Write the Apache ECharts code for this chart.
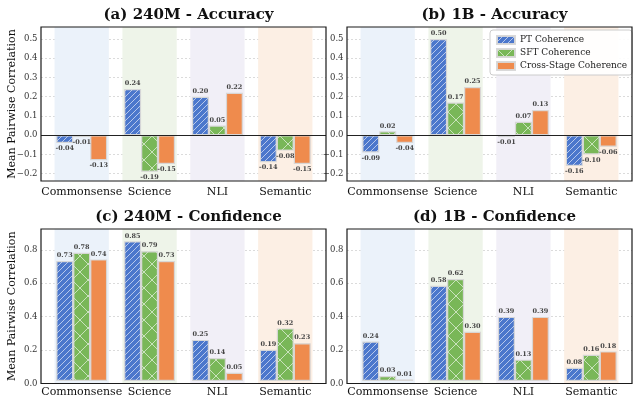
<!DOCTYPE html>
<html>
<head>
<meta charset="utf-8">
<script src="https://cdn.jsdelivr.net/npm/echarts@6/dist/echarts.min.js"></script>
<style>
  html, body { margin: 0; padding: 0; background: #fff; }
  #chart { width: 638px; height: 398px; }
</style>
</head>
<body>
<div id="chart"></div>
<script>
// ---- data ----
const categories = ['Commonsense', 'Science', 'NLI', 'Semantic'];
const seriesNames = ['PT Coherence', 'SFT Coherence', 'Cross-Stage Coherence'];
const panelTitles = ['(a) 240M - Accuracy', '(b) 1B - Accuracy', '(c) 240M - Confidence', '(d) 1B - Confidence'];

const acc240mPT    = [-0.04,  0.24,  0.20, -0.14];
const acc240mSFT   = [-0.01, -0.19,  0.05, -0.08];
const acc240mCross = [-0.13, -0.15,  0.22, -0.15];

const acc1bPT    = [-0.09, 0.50, -0.01, -0.16];
const acc1bSFT   = [ 0.02, 0.17,  0.07, -0.10];
const acc1bCross = [-0.04, 0.25,  0.13, -0.06];

const conf240mPT    = [0.73, 0.85, 0.25, 0.19];
const conf240mSFT   = [0.78, 0.79, 0.14, 0.32];
const conf240mCross = [0.74, 0.73, 0.05, 0.23];

const conf1bPT    = [0.24, 0.58, 0.39, 0.08];
const conf1bSFT   = [0.03, 0.62, 0.13, 0.16];
const conf1bCross = [0.01, 0.30, 0.39, 0.18];

const accTicks  = [-0.2, -0.1, 0.0, 0.1, 0.2, 0.3, 0.4, 0.5];
const confTicks = [0.0, 0.2, 0.4, 0.6, 0.8];
const accRange  = [-0.238, 0.562];
const confRange = [0, 0.925];

const yAxisTitle = 'Mean Pairwise Correlation';

// ---- styling ----
const SERIF = "'DejaVu Serif', serif";
const BLUE = '#4b77cc', GREEN = '#79b758', ORANGE = '#ef8b4d';
const BAND_COLORS = ['#ebf2fa', '#eef4e9', '#f1eff7', '#fcefe4'];

function hatch(base, size, dirs, stroke) {
  const c = document.createElement('canvas');
  c.width = size; c.height = size;
  const g = c.getContext('2d');
  g.fillStyle = base;
  g.fillRect(0, 0, size, size);
  g.strokeStyle = stroke;
  g.lineWidth = 1;
  for (const d of dirs) {
    for (const k of [-size, 0, size]) {
      g.beginPath();
      if (d > 0) { g.moveTo(k, size); g.lineTo(k + size, 0); }
      else { g.moveTo(k, 0); g.lineTo(k + size, size); }
      g.stroke();
    }
  }
  return c;
}
const fills = [
  { image: hatch(BLUE, 6, [1], 'rgba(255,255,255,0.6)'), repeat: 'repeat' },
  { image: hatch(GREEN, 16, [1, -1], 'rgba(255,255,255,0.6)'), repeat: 'repeat' },
  ORANGE
];

const panels = [
  { title: panelTitles[0], values: [acc240mPT, acc240mSFT, acc240mCross], ticks: accTicks, range: accRange, zero: true, col: 0, row: 0 },
  { title: panelTitles[1], values: [acc1bPT, acc1bSFT, acc1bCross], ticks: accTicks, range: accRange, zero: true, col: 1, row: 0 },
  { title: panelTitles[2], values: [conf240mPT, conf240mSFT, conf240mCross], ticks: confTicks, range: confRange, zero: false, col: 0, row: 1 },
  { title: panelTitles[3], values: [conf1bPT, conf1bSFT, conf1bCross], ticks: confTicks, range: confRange, zero: false, col: 1, row: 1 }
];

// frame geometry: x limits span -0.6 .. n-0.4 in category units
const colLeft = [41, 347];
const frameW = 285;
const rowTop = [27, 229];
const frameH = [154, 154.5];
const xPad = 0.6, nCat = categories.length;
const unitPx = frameW / (nCat - 1 + 2 * xPad);

const fmtTick = v => (v < 0 ? '\u2212' : '') + Math.abs(v).toFixed(1);

const option = {
  animation: false,
  backgroundColor: '#fff',
  title: [], grid: [], xAxis: [], yAxis: [], series: [],
  legend: {
    data: seriesNames,
    orient: 'vertical',
    left: 490, top: 30,
    itemWidth: 18, itemHeight: 8, itemGap: 3,
    icon: 'rect',
    padding: [5, 5, 4, 6],
    borderColor: '#cccccc', borderWidth: 1, borderRadius: 3,
    backgroundColor: 'rgba(255,255,255,0.9)',
    textStyle: { fontFamily: SERIF, fontSize: 9, color: '#222' }
  }
};

panels.forEach((p, i) => {
  const left = colLeft[p.col], top = rowTop[p.row], h = frameH[p.row];
  const frameIdx = 2 * i, innerIdx = 2 * i + 1;

  option.title.push({
    text: p.title,
    left: left + frameW / 2, top: top - 24,
    textAlign: 'center',
    textStyle: { fontFamily: SERIF, fontWeight: 'bold', fontSize: 15, color: '#111' }
  });

  // outer frame (drawn above bars and grid lines) with y ticks and dotted grid
  option.grid.push({ left: left, top: top, width: frameW, height: h, show: true, z: 10,
    borderColor: '#1a1a1a', borderWidth: 1.2, backgroundColor: 'transparent' });
  // inner grid covering exactly the category bands
  option.grid.push({ left: left + xPad * unitPx - 0.5 * unitPx, top: top,
    width: nCat * unitPx, height: h, show: false });

  option.xAxis.push({ type: 'value', gridIndex: frameIdx, min: -xPad, max: nCat - 1 + xPad, show: false });
  option.xAxis.push({
    type: 'category', gridIndex: innerIdx, data: categories,
    axisLine: { show: false },
    axisTick: { show: true, inside: true, length: 3, alignWithLabel: true, lineStyle: { color: '#222' } },
    axisLabel: { interval: 0, hideOverlap: false, margin: 6, fontFamily: SERIF, fontSize: 11, color: '#111' }
  });

  option.yAxis.push({
    type: 'value', gridIndex: frameIdx, min: p.range[0], max: p.range[1],
    name: p.col === 0 ? yAxisTitle : '',
    nameLocation: 'middle', nameGap: 23, nameMoveOverlap: false,
    nameTextStyle: { fontFamily: SERIF, fontSize: 11, color: '#111' },
    axisLine: { show: false },
    axisTick: { show: true, length: 3.5, customValues: p.ticks, lineStyle: { color: '#222' } },
    axisLabel: { customValues: p.ticks, formatter: fmtTick, margin: 3.5,
      fontFamily: SERIF, fontSize: 8.5, color: '#333' },
    splitLine: { show: true, lineStyle: { color: '#d2d2d2', type: [2, 2], width: 0.8 } }
  });
  option.yAxis.push({ type: 'value', gridIndex: innerIdx, min: p.range[0], max: p.range[1], show: false,
    splitLine: { show: false } });

  // category background bands
  option.series.push({
    type: 'line', xAxisIndex: frameIdx, yAxisIndex: frameIdx, data: [], z: -1, silent: true,
    markArea: {
      silent: true,
      data: categories.map((c, k) => [
        { xAxis: k - 0.4, yAxis: p.range[0], itemStyle: { color: BAND_COLORS[k] } },
        { xAxis: k + 0.4, yAxis: p.range[1] }
      ])
    }
  });

  // bars
  p.values.forEach((vals, s) => {
    option.series.push({
      name: seriesNames[s], type: 'bar', xAxisIndex: innerIdx, yAxisIndex: innerIdx,
      barWidth: unitPx * 0.25, barGap: '0%',
      itemStyle: { color: fills[s], borderColor: 'rgba(215,215,215,0.95)', borderWidth: 1.2 },
      emphasis: { disabled: true },
      label: { show: true, distance: 2, formatter: d => d.value.toFixed(2),
        fontFamily: SERIF, fontSize: 6.5, fontWeight: 'bold', color: '#444' },
      data: vals.map(v => ({ value: v, label: { position: v >= 0 ? 'top' : 'bottom' } }))
    });
  });

  // zero reference line
  if (p.zero) {
    option.series.push({
      type: 'line', xAxisIndex: frameIdx, yAxisIndex: frameIdx, data: [], z: 5, silent: true,
      markLine: { silent: true, symbol: 'none', label: { show: false },
        lineStyle: { color: '#222', width: 1.2, type: 'solid' },
        data: [{ yAxis: 0 }] }
    });
  }
});

const chart = echarts.init(document.getElementById('chart'), null, { renderer: 'canvas' });
chart.setOption(option);
</script>
</body>
</html>
